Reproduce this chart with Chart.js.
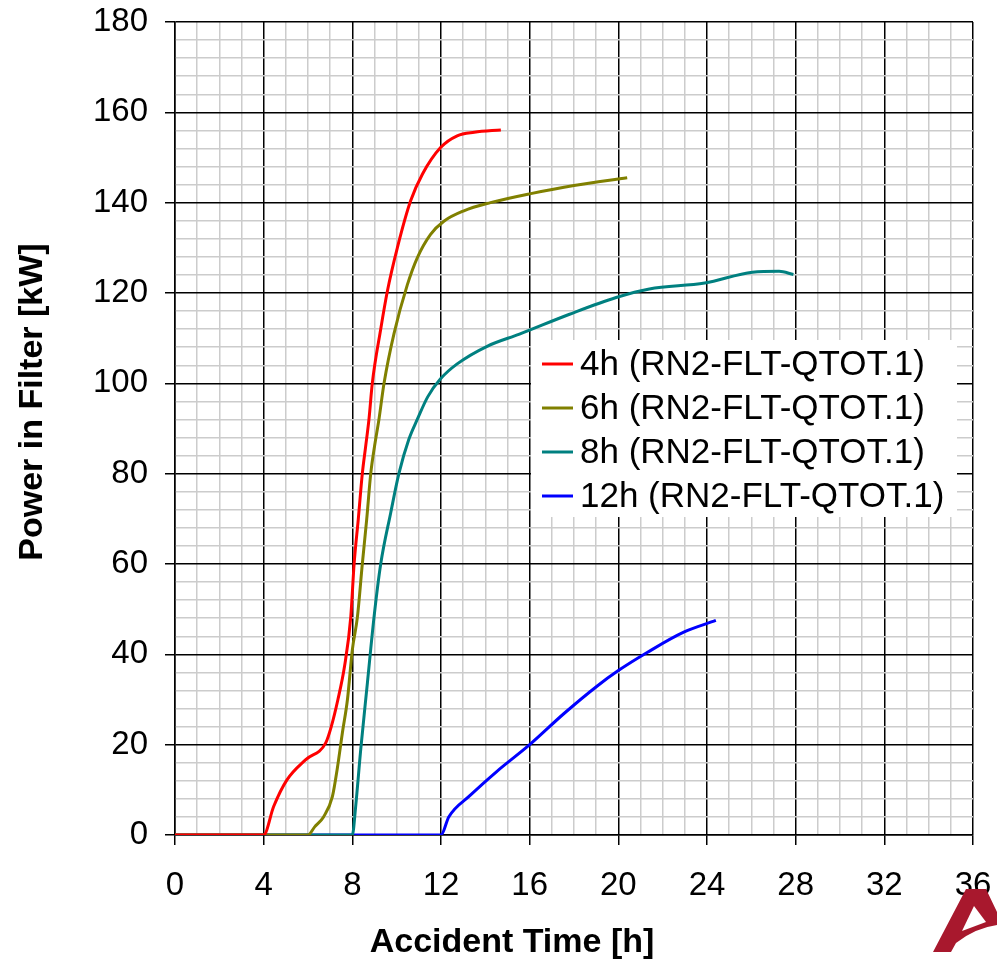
<!DOCTYPE html>
<html>
<head>
<meta charset="utf-8">
<script src="https://cdn.jsdelivr.net/npm/chart.js@4.4.1/dist/chart.umd.min.js"></script>
<style>
  body { margin: 0; background: #fff; }
  #wrap { width: 997px; height: 959px; }
</style>
</head>
<body>
<div id="wrap"><canvas id="myChart" width="997" height="959"></canvas></div>
<script>
// axis ranges / tick labels
var xMin = 0, xMax = 36, xMinorStep = 1, xMajorStep = 4;
var yMin = 0, yMax = 180, yMinorStep = 4, yMajorStep = 20;

var xTitle = 'Accident Time [h]';
var yTitle = 'Power in Filter [kW]';

var seriesLabels = [
  '4h (RN2-FLT-QTOT.1)',
  '6h (RN2-FLT-QTOT.1)',
  '8h (RN2-FLT-QTOT.1)',
  '12h (RN2-FLT-QTOT.1)'
];
var seriesColors = ['#ff0000', '#808000', '#008080', '#0000ff'];

// 4h
var time4h = [0, 4.0, 4.45, 5.05, 5.9, 6.8, 7.05, 7.35, 7.65, 7.93, 8.08, 8.27, 8.45, 8.6, 8.75, 8.9, 9.28, 9.58, 10.03, 10.63, 11.16, 11.98, 12.73, 13.5, 14.7];
var power4h = [0, 0, 6.3, 12.2, 16.7, 20.4, 24, 30, 37.4, 48.3, 60, 70, 80, 86, 92, 100, 112, 120.4, 130, 140.4, 146.3, 152.2, 154.8, 155.6, 156.1];
// 6h
var time6h = [0, 6.0, 6.3, 6.7, 7.1, 7.33, 7.55, 7.78, 8.0, 8.23, 8.45, 8.65, 8.83, 9.0, 9.2, 9.43, 9.88, 10.48, 10.93, 11.53, 12.13, 13.03, 14.23, 16.05, 18.0, 20.4];
var power6h = [0, 0, 1.8, 4, 8.5, 15, 22.6, 30, 41, 48.3, 60, 70, 80, 86, 92, 100, 111, 121.8, 127.8, 133, 135.9, 138.2, 140, 142, 143.8, 145.5];
// 8h
var time8h = [0, 8.0, 8.15, 8.38, 8.68, 8.98, 9.28, 9.73, 10.1, 10.55, 10.93, 11.4, 11.98, 12.73, 14.08, 15.54, 17.8, 19.9, 21.4, 23.9, 26.05, 27.25, 27.9];
var power8h = [0, 0, 6.3, 19, 33.7, 48.3, 60, 71.3, 80, 87.6, 92, 97.0, 101, 104.3, 108.2, 110.9, 115.3, 119, 120.9, 122.2, 124.6, 124.8, 124.1];
// 12h
var time12h = [0, 12.0, 12.35, 13.3, 14.5, 16.0, 17.55, 19.05, 20.0, 21.3, 22.95, 24.4];
var power12h = [0, 0, 4, 8.7, 14, 20, 26.9, 33.0, 36.4, 40.4, 44.9, 47.5];

var allTimes = [time4h, time6h, time8h, time12h];
var allPowers = [power4h, power6h, power8h, power12h];

function toPoints(xs, ys) {
  return xs.map(function (x, i) { return { x: x, y: ys[i] }; });
}

var datasets = seriesLabels.map(function (label, i) {
  return {
    label: label,
    data: toPoints(allTimes[i], allPowers[i]),
    borderColor: seriesColors[i],
    backgroundColor: seriesColors[i],
    borderWidth: 3,
    pointRadius: 0,
    cubicInterpolationMode: 'monotone',
    fill: false
  };
});

function isMajor(v, step) {
  return Math.abs(v / step - Math.round(v / step)) < 1e-6;
}

// legend box drawn inside the plot, over the grid
var boxLegend = {
  id: 'boxLegend',
  afterDraw: function (chart) {
    var ctx = chart.ctx;
    ctx.save();
    ctx.fillStyle = '#fff';
    ctx.fillRect(531, 340, 426, 177);
    ctx.font = '35px "Liberation Sans", Arial, sans-serif';
    ctx.textBaseline = 'middle';
    ctx.textAlign = 'left';
    chart.data.datasets.forEach(function (ds, i) {
      var y = 364 + i * 44;
      ctx.strokeStyle = ds.borderColor;
      ctx.lineWidth = 3;
      ctx.beginPath();
      ctx.moveTo(542, y);
      ctx.lineTo(573, y);
      ctx.stroke();
      ctx.fillStyle = '#000';
      ctx.fillText(ds.label, 580, y + 1);
    });
    ctx.restore();
  }
};

// axis titles and logo
var titles = {
  id: 'titles',
  afterDraw: function (chart) {
    var ctx = chart.ctx;
    ctx.save();
    ctx.fillStyle = '#000';
    ctx.font = 'bold 34px "Liberation Sans", Arial, sans-serif';
    ctx.textAlign = 'center';
    ctx.textBaseline = 'middle';
    ctx.fillText(xTitle, 512, 943);
    ctx.translate(33, 402);
    ctx.rotate(-Math.PI / 2);
    ctx.fillText(yTitle, 0, 0);
    ctx.restore();

    ctx.save();
    ctx.fillStyle = '#a8182d';
    ctx.beginPath();
    ctx.moveTo(966, 889);
    ctx.lineTo(986, 889);
    ctx.lineTo(997, 912);
    ctx.lineTo(997, 925);
    ctx.quadraticCurveTo(975, 928, 956, 943);
    ctx.lineTo(951, 952);
    ctx.lineTo(933, 952);
    ctx.closePath();
    ctx.fill();
    ctx.fillStyle = '#fff';
    ctx.beginPath();
    ctx.moveTo(974, 906);
    ctx.lineTo(986, 922);
    ctx.lineTo(962, 931);
    ctx.closePath();
    ctx.fill();
    ctx.restore();
  }
};

var tickFont = { family: '"Liberation Sans", Arial, sans-serif', size: 33 };

var chart = new Chart(document.getElementById('myChart').getContext('2d'), {
  type: 'line',
  data: { datasets: datasets },
  options: {
    responsive: false,
    animation: false,
    layout: { padding: { top: 22, right: 24, left: 0, bottom: 0 } },
    plugins: {
      legend: { display: false },
      tooltip: { enabled: false }
    },
    scales: {
      x: {
        type: 'linear',
        min: xMin,
        max: xMax,
        afterFit: function (scale) {
          scale.height = 124;
          scale.paddingLeft = 0;
          scale.paddingRight = 0;
        },
        ticks: {
          stepSize: xMinorStep,
          maxTicksLimit: 100,
          autoSkip: false,
          maxRotation: 0,
          padding: 21,
          color: '#000',
          font: tickFont,
          callback: function (v) { return isMajor(v, xMajorStep) ? String(v) : ''; }
        },
        grid: {
          color: function (c) { return isMajor(c.tick.value, xMajorStep) ? '#000' : '#cccccc'; },
          lineWidth: 1.5,
          tickLength: 10,
          tickColor: function (c) { return isMajor(c.tick.value, xMajorStep) ? '#000' : 'rgba(0,0,0,0)'; }
        },
        border: { display: true, color: '#000', width: 1.5 }
      },
      y: {
        type: 'linear',
        min: yMin,
        max: yMax,
        afterFit: function (scale) {
          scale.width = 175;
          scale.paddingTop = 0;
          scale.paddingBottom = 0;
        },
        ticks: {
          stepSize: yMinorStep,
          maxTicksLimit: 100,
          autoSkip: false,
          padding: 17,
          color: '#000',
          font: tickFont,
          callback: function (v) { return isMajor(v, yMajorStep) ? String(v) : ''; }
        },
        grid: {
          color: function (c) { return isMajor(c.tick.value, yMajorStep) ? '#000' : '#cccccc'; },
          lineWidth: 1.5,
          tickLength: 10,
          tickColor: function (c) { return isMajor(c.tick.value, yMajorStep) ? '#000' : 'rgba(0,0,0,0)'; }
        },
        border: { display: true, color: '#000', width: 1.5 }
      }
    }
  },
  plugins: [boxLegend, titles]
});
</script>
</body>
</html>
